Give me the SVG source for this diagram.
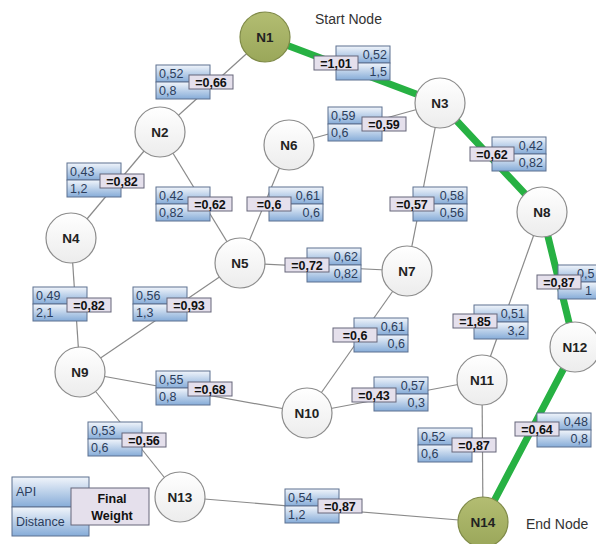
<svg xmlns="http://www.w3.org/2000/svg" width="596" height="544" viewBox="0 0 596 544">
<defs>
<linearGradient id="gb" x1="0" y1="0" x2="0" y2="1">
<stop offset="0" stop-color="#f1f5fb"/>
<stop offset="1" stop-color="#86acd8"/>
</linearGradient>
<linearGradient id="gn" x1="0" y1="0" x2="0" y2="1">
<stop offset="0" stop-color="#ffffff"/>
<stop offset="1" stop-color="#ececec"/>
</linearGradient>
<linearGradient id="gg" x1="0" y1="0" x2="0" y2="1">
<stop offset="0" stop-color="#b3bd72"/>
<stop offset="1" stop-color="#9aa75a"/>
</linearGradient>
</defs>
<style>
.e{stroke:#8a8a8a;stroke-width:1.2;fill:none}
.p{stroke:#27b143;stroke-width:7;stroke-linecap:round;fill:none}
.b{fill:url(#gb);stroke:#5d7190;stroke-width:1}
.w{fill:#e5e0ec;stroke:#66667a;stroke-width:1}
.t{font-family:"Liberation Sans",Arial,sans-serif;font-size:12.5px;fill:#2b3d5c}
.r{text-anchor:end}
.f{font-family:"Liberation Sans",Arial,sans-serif;font-size:12.5px;font-weight:bold;fill:#111;text-anchor:middle}
.c{fill:url(#gn);stroke:#8c8c8c;stroke-width:1.2}
.s{fill:url(#gg);stroke:#7f8a48;stroke-width:1.2}
.n{font-family:"Liberation Sans",Arial,sans-serif;font-size:13.5px;font-weight:bold;fill:#222;text-anchor:middle}
.h{font-family:"Liberation Sans",Arial,sans-serif;font-size:14px;fill:#333}
</style>
<rect width="596" height="544" fill="#ffffff"/>

<g id="connectors">
<line class="e" x1="265" y1="37" x2="160" y2="132"/>
<line class="e" x1="160" y1="132" x2="71" y2="238"/>
<line class="e" x1="160" y1="132" x2="240" y2="263"/>
<line class="e" x1="440" y1="103" x2="289" y2="145"/>
<line class="e" x1="440" y1="103" x2="407" y2="271"/>
<line class="e" x1="289" y1="145" x2="240" y2="263"/>
<line class="e" x1="240" y1="263" x2="407" y2="271"/>
<line class="e" x1="240" y1="263" x2="80" y2="372"/>
<line class="e" x1="71" y1="238" x2="80" y2="372"/>
<line class="e" x1="407" y1="271" x2="307" y2="413"/>
<line class="e" x1="542" y1="212" x2="482" y2="380"/>
<line class="e" x1="80" y1="372" x2="307" y2="413"/>
<line class="e" x1="80" y1="372" x2="180" y2="497"/>
<line class="e" x1="307" y1="413" x2="482" y2="380"/>
<line class="e" x1="482" y1="380" x2="483" y2="522"/>
<line class="e" x1="180" y1="497" x2="483" y2="522"/>
<line class="p" x1="265" y1="37" x2="440" y2="103"/>
<line class="p" x1="440" y1="103" x2="542" y2="212"/>
<line class="p" x1="542" y1="212" x2="575" y2="347"/>
<line class="p" x1="575" y1="347" x2="483" y2="522"/>
</g>

<g id="edge-labels">
<g><rect class="b" x="156" y="65" width="54" height="17"/><rect class="b" x="156" y="82" width="54" height="17"/><text class="t" x="159" y="78">0,52</text><text class="t" x="159" y="95">0,8</text><rect class="w" x="189" y="75" width="44" height="14"/><text class="f" x="211" y="86.5">=0,66</text></g>
<g><rect class="b" x="336" y="46" width="54" height="17"/><rect class="b" x="336" y="63" width="54" height="17"/><text class="t r" x="387" y="59">0,52</text><text class="t r" x="387" y="76">1,5</text><rect class="w" x="314" y="56" width="44" height="14"/><text class="f" x="336" y="67.5">=1,01</text></g>
<g><rect class="b" x="328" y="107" width="54" height="17"/><rect class="b" x="328" y="124" width="54" height="17"/><text class="t" x="331" y="120">0,59</text><text class="t" x="331" y="137">0,6</text><rect class="w" x="362" y="117" width="44" height="14"/><text class="f" x="384" y="128.5">=0,59</text></g>
<g><rect class="b" x="492" y="137" width="54" height="17"/><rect class="b" x="492" y="154" width="54" height="17"/><text class="t r" x="543" y="150">0,42</text><text class="t r" x="543" y="167">0,82</text><rect class="w" x="470" y="147" width="44" height="14"/><text class="f" x="492" y="158.5">=0,62</text></g>
<g><rect class="b" x="67" y="163" width="54" height="17"/><rect class="b" x="67" y="180" width="54" height="17"/><text class="t" x="70" y="176">0,43</text><text class="t" x="70" y="193">1,2</text><rect class="w" x="100" y="174" width="44" height="14"/><text class="f" x="122" y="185.5">=0,82</text></g>
<g><rect class="b" x="156" y="187" width="54" height="17"/><rect class="b" x="156" y="204" width="54" height="17"/><text class="t" x="159" y="200">0,42</text><text class="t" x="159" y="217">0,82</text><rect class="w" x="188" y="197" width="44" height="14"/><text class="f" x="210" y="208.5">=0,62</text></g>
<g><rect class="b" x="269" y="187" width="54" height="17"/><rect class="b" x="269" y="204" width="54" height="17"/><text class="t r" x="320" y="200">0,61</text><text class="t r" x="320" y="217">0,6</text><rect class="w" x="247" y="197" width="44" height="14"/><text class="f" x="269" y="208.5">=0,6</text></g>
<g><rect class="b" x="413" y="187" width="54" height="17"/><rect class="b" x="413" y="204" width="54" height="17"/><text class="t r" x="464" y="200">0,58</text><text class="t r" x="464" y="217">0,56</text><rect class="w" x="390" y="197" width="44" height="14"/><text class="f" x="412" y="208.5">=0,57</text></g>
<g><rect class="b" x="307" y="248" width="54" height="17"/><rect class="b" x="307" y="265" width="54" height="17"/><text class="t r" x="358" y="261">0,62</text><text class="t r" x="358" y="278">0,82</text><rect class="w" x="285" y="258" width="44" height="14"/><text class="f" x="307" y="269.5">=0,72</text></g>
<g><rect class="b" x="33" y="287" width="54" height="17"/><rect class="b" x="33" y="304" width="54" height="17"/><text class="t" x="36" y="300">0,49</text><text class="t" x="36" y="317">2,1</text><rect class="w" x="67" y="298" width="44" height="14"/><text class="f" x="89" y="309.5">=0,82</text></g>
<g><rect class="b" x="133" y="287" width="54" height="17"/><rect class="b" x="133" y="304" width="54" height="17"/><text class="t" x="136" y="300">0,56</text><text class="t" x="136" y="317">1,3</text><rect class="w" x="167" y="298" width="44" height="14"/><text class="f" x="189" y="309.5">=0,93</text></g>
<g><rect class="b" x="558" y="265" width="54" height="17"/><rect class="b" x="558" y="282" width="54" height="17"/><text class="t" x="577" y="278">0,5</text><text class="t" x="585" y="295">1</text><rect class="w" x="537" y="275" width="44" height="14"/><text class="f" x="559" y="286.5">=0,87</text></g>
<g><rect class="b" x="354" y="318" width="54" height="17"/><rect class="b" x="354" y="335" width="54" height="17"/><text class="t r" x="405" y="331">0,61</text><text class="t r" x="405" y="348">0,6</text><rect class="w" x="333" y="328" width="44" height="14"/><text class="f" x="355" y="339.5">=0,6</text></g>
<g><rect class="b" x="474" y="305" width="54" height="17"/><rect class="b" x="474" y="322" width="54" height="17"/><text class="t r" x="525" y="318">0,51</text><text class="t r" x="525" y="335">3,2</text><rect class="w" x="453" y="314" width="44" height="14"/><text class="f" x="475" y="325.5">=1,85</text></g>
<g><rect class="b" x="156" y="371" width="54" height="17"/><rect class="b" x="156" y="388" width="54" height="17"/><text class="t" x="159" y="384">0,55</text><text class="t" x="159" y="401">0,8</text><rect class="w" x="188" y="382" width="44" height="14"/><text class="f" x="210" y="393.5">=0,68</text></g>
<g><rect class="b" x="374" y="377" width="54" height="17"/><rect class="b" x="374" y="394" width="54" height="17"/><text class="t r" x="425" y="390">0,57</text><text class="t r" x="425" y="407">0,3</text><rect class="w" x="352" y="388" width="44" height="14"/><text class="f" x="374" y="399.5">=0,43</text></g>
<g><rect class="b" x="88" y="422" width="54" height="17"/><rect class="b" x="88" y="439" width="54" height="17"/><text class="t" x="91" y="435">0,53</text><text class="t" x="91" y="452">0,6</text><rect class="w" x="122" y="433" width="44" height="14"/><text class="f" x="144" y="444.5">=0,56</text></g>
<g><rect class="b" x="418" y="428" width="54" height="17"/><rect class="b" x="418" y="445" width="54" height="17"/><text class="t" x="421" y="441">0,52</text><text class="t" x="421" y="458">0,6</text><rect class="w" x="452" y="438" width="44" height="14"/><text class="f" x="474" y="449.5">=0,87</text></g>
<g><rect class="b" x="537" y="413" width="54" height="17"/><rect class="b" x="537" y="430" width="54" height="17"/><text class="t r" x="588" y="426">0,48</text><text class="t r" x="588" y="443">0,8</text><rect class="w" x="515" y="422" width="44" height="14"/><text class="f" x="537" y="433.5">=0,64</text></g>
<g><rect class="b" x="285" y="489" width="54" height="17"/><rect class="b" x="285" y="506" width="54" height="17"/><text class="t" x="288" y="502">0,54</text><text class="t" x="288" y="519">1,2</text><rect class="w" x="318" y="499" width="44" height="14"/><text class="f" x="340" y="510.5">=0,87</text></g>
</g>

<g id="N1"><circle class="s" cx="265" cy="37" r="25"/><text class="n" x="265" y="42">N1</text></g>
<g id="N2"><circle class="c" cx="160" cy="132" r="25"/><text class="n" x="160" y="137">N2</text></g>
<g id="N3"><circle class="c" cx="440" cy="103" r="25"/><text class="n" x="440" y="108">N3</text></g>
<g id="N4"><circle class="c" cx="71" cy="238" r="25"/><text class="n" x="71" y="243">N4</text></g>
<g id="N5"><circle class="c" cx="240" cy="263" r="25"/><text class="n" x="240" y="268">N5</text></g>
<g id="N6"><circle class="c" cx="289" cy="145" r="25"/><text class="n" x="289" y="150">N6</text></g>
<g id="N7"><circle class="c" cx="407" cy="271" r="25"/><text class="n" x="407" y="276">N7</text></g>
<g id="N8"><circle class="c" cx="542" cy="212" r="25"/><text class="n" x="542" y="217">N8</text></g>
<g id="N9"><circle class="c" cx="80" cy="372" r="25"/><text class="n" x="80" y="377">N9</text></g>
<g id="N10"><circle class="c" cx="307" cy="413" r="25"/><text class="n" x="307" y="418">N10</text></g>
<g id="N11"><circle class="c" cx="482" cy="380" r="25"/><text class="n" x="482" y="385">N11</text></g>
<g id="N12"><circle class="c" cx="575" cy="347" r="25"/><text class="n" x="575" y="352">N12</text></g>
<g id="N13"><circle class="c" cx="180" cy="497" r="25"/><text class="n" x="180" y="502">N13</text></g>
<g id="N14"><circle class="s" cx="483" cy="522" r="25"/><text class="n" x="483" y="527">N14</text></g>

<g id="legend">
<rect class="b" x="12" y="477" width="77" height="30"/><rect class="b" x="12" y="507" width="77" height="29"/>
<text class="t" x="16" y="496">API</text><text class="t" x="16" y="526">Distance</text>
<rect class="w" x="71" y="488" width="78" height="37"/>
<text class="f" x="112" y="503">Final</text><text class="f" x="112" y="520">Weight</text>
</g>
<text class="h" x="315" y="24">Start Node</text>
<text class="h" x="526" y="529">End Node</text>
</svg>
